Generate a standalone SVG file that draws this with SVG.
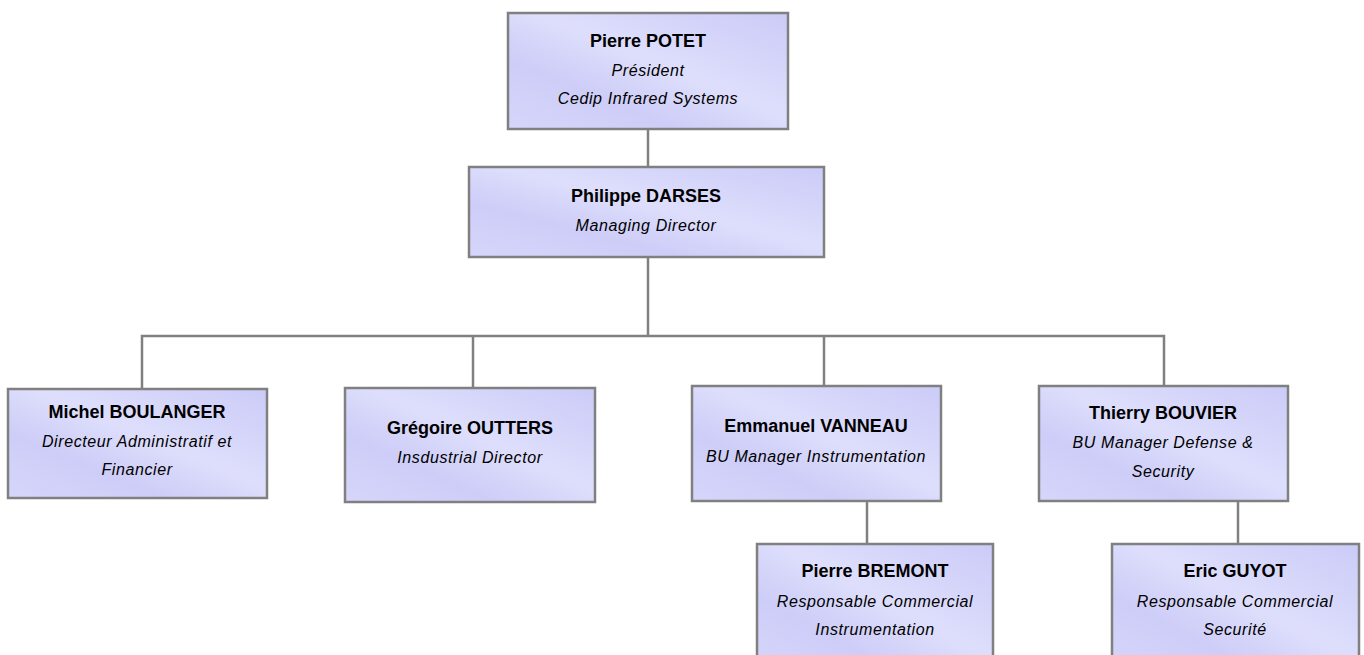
<svg xmlns="http://www.w3.org/2000/svg" width="1364" height="655" viewBox="0 0 1364 655">
<defs>
<linearGradient id="g" x1="0" y1="1" x2="1" y2="0">
<stop offset="0" stop-color="#d6d6fb"/>
<stop offset="0.3" stop-color="#cdcdf8"/>
<stop offset="0.55" stop-color="#dedefc"/>
<stop offset="1" stop-color="#cbcbf8"/>
</linearGradient>
</defs>
<style>
.box{fill:url(#g);stroke:#808080;stroke-width:2.5}
.n{font-family:"Liberation Sans",Arial,sans-serif;font-weight:bold;font-size:18px;fill:#000;text-anchor:middle}
.t{font-family:"Liberation Sans",Arial,sans-serif;font-style:italic;font-size:16px;letter-spacing:0.6px;fill:#000;text-anchor:middle}
.c{stroke:#808080;stroke-width:2.5;fill:none}
</style>
<rect width="1364" height="655" fill="#fff"/>
<g id="connectors">
<path class="c" d="M648 129V167"/>
<path class="c" d="M648 257V336"/>
<path class="c" d="M142 389V336H1164V386"/>
<path class="c" d="M473 336V388"/>
<path class="c" d="M824 336V386"/>
<path class="c" d="M867 501V544"/>
<path class="c" d="M1238 501V544"/>
</g>
<g id="potet">
<rect class="box" x="508" y="13" width="280" height="116"/>
<text class="n" x="648" y="47">Pierre POTET</text>
<text class="t" x="648" y="76">Président</text>
<text class="t" x="648" y="104">Cedip Infrared Systems</text>
</g>
<g id="darses">
<rect class="box" x="469" y="167" width="355" height="90"/>
<text class="n" x="646" y="202">Philippe DARSES</text>
<text class="t" x="646" y="231">Managing Director</text>
</g>
<g id="boulanger">
<rect class="box" x="8" y="389" width="259" height="109"/>
<text class="n" x="137" y="418">Michel BOULANGER</text>
<text class="t" x="137" y="447">Directeur Administratif et</text>
<text class="t" x="137" y="475">Financier</text>
</g>
<g id="outters">
<rect class="box" x="345" y="388" width="250" height="114"/>
<text class="n" x="470" y="434">Grégoire OUTTERS</text>
<text class="t" x="470" y="463">Insdustrial Director</text>
</g>
<g id="vanneau">
<rect class="box" x="692" y="386" width="249" height="115"/>
<text class="n" x="816" y="432">Emmanuel VANNEAU</text>
<text class="t" x="816" y="462">BU Manager Instrumentation</text>
</g>
<g id="bouvier">
<rect class="box" x="1039" y="386" width="249" height="115"/>
<text class="n" x="1163" y="419">Thierry BOUVIER</text>
<text class="t" x="1163" y="448">BU Manager Defense &amp;</text>
<text class="t" x="1163" y="477">Security</text>
</g>
<g id="bremont">
<rect class="box" x="757" y="544" width="236" height="130"/>
<text class="n" x="875" y="577">Pierre BREMONT</text>
<text class="t" x="875" y="607">Responsable Commercial</text>
<text class="t" x="875" y="635">Instrumentation</text>
</g>
<g id="guyot">
<rect class="box" x="1112" y="544" width="247" height="130"/>
<text class="n" x="1235" y="577">Eric GUYOT</text>
<text class="t" x="1235" y="607">Responsable Commercial</text>
<text class="t" x="1235" y="635">Securité</text>
</g>
</svg>
